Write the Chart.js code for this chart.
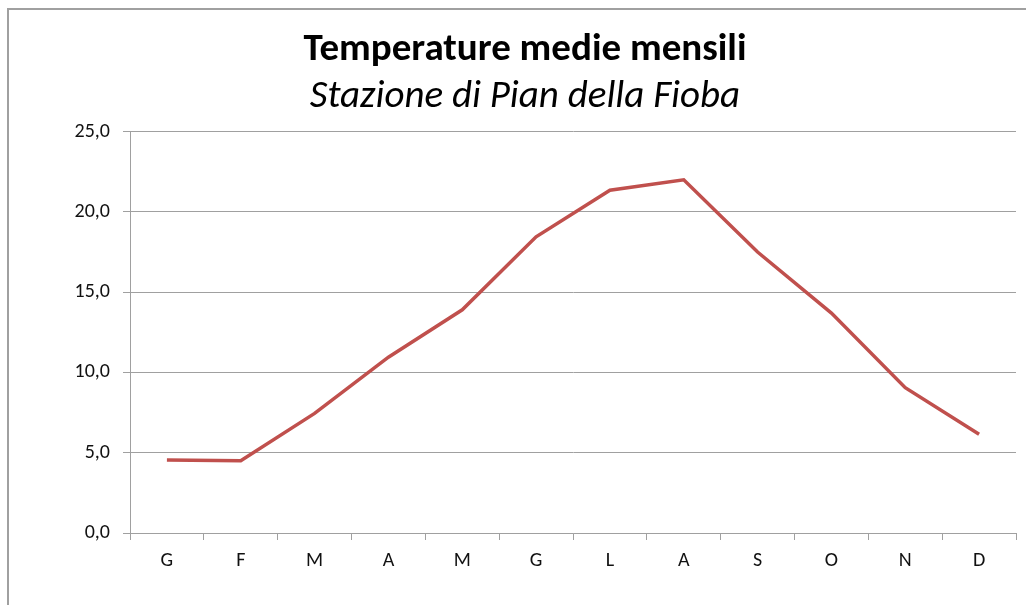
<!DOCTYPE html>
<html>
<head>
<meta charset="utf-8">
<script src="https://cdn.jsdelivr.net/npm/chart.js@4"></script>
<style>
  html, body { margin: 0; padding: 0; background: #fff; overflow: hidden; }
  #wrap { position: relative; width: 1026px; height: 605px; }
  #frame { position: absolute; left: 7px; top: 8px; width: 1100px; height: 700px;
           border-left: 2px solid #a0a0a0; border-top: 2px solid #a0a0a0; pointer-events: none; }
</style>
</head>
<body>
<div id="wrap">
  <canvas id="tempChart" width="1026" height="605"></canvas>
  <div id="frame"></div>
</div>
<script>
// Mesi (iniziali) e temperature medie mensili
const mesi = ['G', 'F', 'M', 'A', 'M', 'G', 'L', 'A', 'S', 'O', 'N', 'D'];
const temperature = [4.55, 4.5, 7.45, 10.95, 13.9, 18.45, 21.35, 22.0, 17.5, 13.7, 9.05, 6.15];
const titolo = 'Temperature medie mensili';
const sottotitolo = 'Stazione di Pian della Fioba';

const fontFam = "Carlito, 'Open Sans', sans-serif";
const grigio = '#a0a0a0';

const ctx = document.getElementById('tempChart').getContext('2d');
const tempChart = new Chart(ctx, {
    type: 'line',
    data: {
        labels: mesi,
        datasets: [{
            label: 'Temperatura',
            data: temperature,
            borderColor: '#c0504d',
            borderWidth: 3.5,
            pointRadius: 0,
            tension: 0,
            fill: false
        }]
    },
    options: {
        responsive: false,
        animation: false,
        layout: { padding: { left: 34, right: 10, top: 0, bottom: 0 } },
        plugins: {
            legend: { display: false },
            tooltip: { enabled: false },
            title: {
                display: true,
                text: titolo,
                color: '#000',
                font: { family: fontFam, size: 39, weight: 'bold' },
                padding: { top: 27, bottom: 0 }
            },
            subtitle: {
                display: true,
                text: sottotitolo,
                color: '#000',
                font: { family: fontFam, size: 39, style: 'italic' },
                padding: { top: 0, bottom: 11 }
            }
        },
        scales: {
            x: {
                offset: true,
                grid: {
                    offset: true,
                    drawOnChartArea: false,
                    drawTicks: true,
                    tickLength: 7,
                    color: grigio
                },
                border: { color: grigio, width: 1 },
                ticks: {
                    color: '#111',
                    padding: 9,
                    font: { family: fontFam, size: 20 }
                },
                afterFit: (scale) => { scale.height = 72; }
            },
            y: {
                min: 0,
                max: 25,
                grid: {
                    color: grigio,
                    tickLength: 7
                },
                border: { color: grigio, width: 1 },
                ticks: {
                    stepSize: 5,
                    color: '#111',
                    padding: 13,
                    font: { family: fontFam, size: 20 },
                    callback: (v) => v.toFixed(1).replace('.', ',')
                },
                afterFit: (scale) => { scale.width = 96; }
            }
        }
    }
});
</script>
</body>
</html>
